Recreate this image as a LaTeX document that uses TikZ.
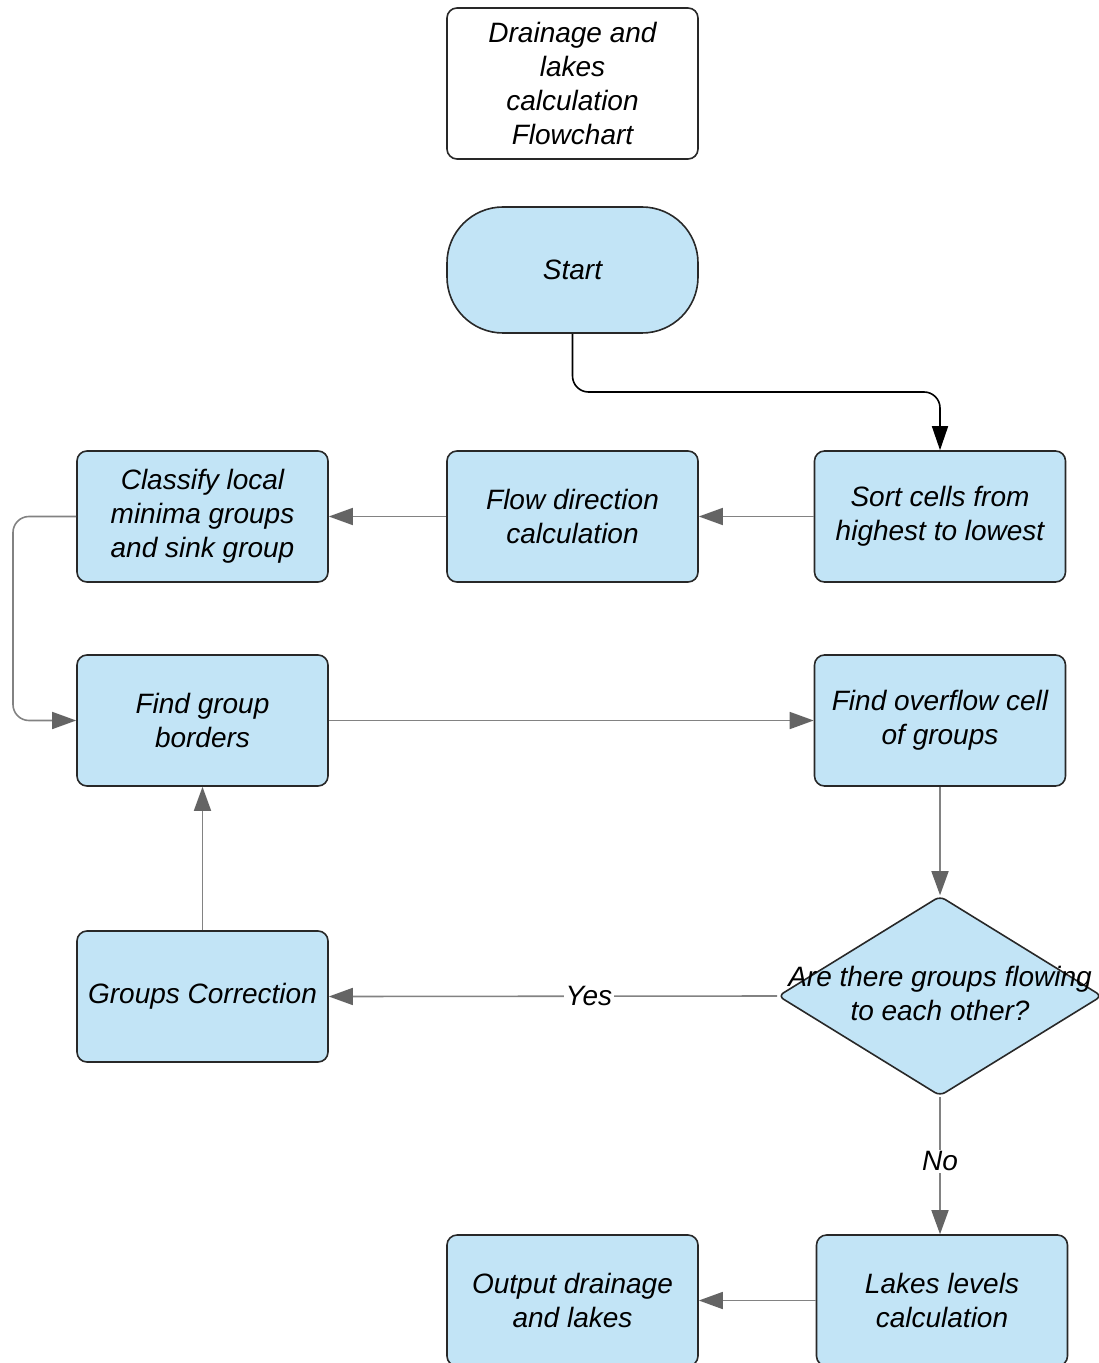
\documentclass[tikz,border=0pt]{standalone}
\usepackage{fontspec}
\setmainfont{Liberation Sans}
\usetikzlibrary{arrows.meta,shapes.geometric}
\definecolor{boxfill}{RGB}{194,228,246}
\definecolor{conn}{RGB}{130,130,130}
\definecolor{tipc}{RGB}{100,100,100}
\definecolor{edgec}{RGB}{40,40,40}
\begin{document}
\begin{tikzpicture}[x=0.5pt,y=-0.5pt,
  every node/.style={font=\fontsize{14}{17}\selectfont\itshape},
  box/.style={draw=edgec, line width=0.8pt, fill=boxfill, rounded corners=5pt,
    minimum width=125.5pt, minimum height=65.5pt, align=center, inner sep=1pt},
  titlebox/.style={box, fill=white, minimum height=75.5pt},
  startbox/.style={box, minimum height=63pt, rounded corners=28pt},
  decision/.style={draw=edgec, line width=0.8pt, fill=boxfill, diamond, rounded corners=3pt,
    minimum width=162pt, minimum height=100pt, inner sep=0pt},
  flow/.style={draw=conn, line width=0.8pt, -{Triangle[length=12pt,width=8.5pt,fill=tipc,color=tipc]}},
  blkflow/.style={draw=black, line width=0.8pt, rounded corners=8pt, -{Triangle[length=12pt,width=8pt]}},
  lbl/.style={fill=white, inner sep=1pt}
]
\useasboundingbox (0,0) rectangle (1098,1363);

\node[titlebox] (title) at (572.5,83.5) {Drainage and\\lakes\\calculation\\Flowchart};
\node[startbox] (start) at (572.5,270) {Start};
\node[box] (sort) at (940,516.5) {Sort cells from\\highest to lowest};
\node[box] (flowdir) at (572.5,516.5) {Flow direction\\calculation};
\node[box] (classify) at (202.5,516.5) {Classify local\\minima groups\\and sink group};
\node[box] (borders) at (202.5,720.5) {Find group\\borders};
\node[box] (overflow) at (940,720.5) {Find overflow cell\\of groups};
\node[decision] (q) at (940,996) {};
\node[align=center, inner sep=0pt] (qt) at (940,993) {Are there groups flowing\\to each other?};
\node[box] (corr) at (202.5,996.5) {Groups Correction};
\node[box] (lakes) at (942,1300.5) {Lakes levels\\calculation};
\node[box] (output) at (572.5,1300.5) {Output drainage\\and lakes};

\coordinate (sbend) at (572.5,392);
\coordinate (lbend) at (13,516.5);

\draw[blkflow] (start.south) -- (sbend) -| (sort.north);
\draw[flow] (sort.west) -- (flowdir.east);
\draw[flow] (flowdir.west) -- (classify.east);
\draw[flow, rounded corners=8pt] (classify.west) -- (lbend) |- (borders.west);
\draw[flow] (borders.east) -- (overflow.west);
\draw[flow] (overflow.south) -- (q.north);
\draw[flow] (q.west) -- node[lbl, pos=0.42] (yes) {Yes} (corr.east);
\draw[flow] (corr.north) -- (borders.south);
\draw[flow] (q.south) -- node[lbl, pos=0.47] (no) {No} (lakes.north -| q.south);
\draw[flow] (lakes.west) -- (output.east);
\end{tikzpicture}
\end{document}
